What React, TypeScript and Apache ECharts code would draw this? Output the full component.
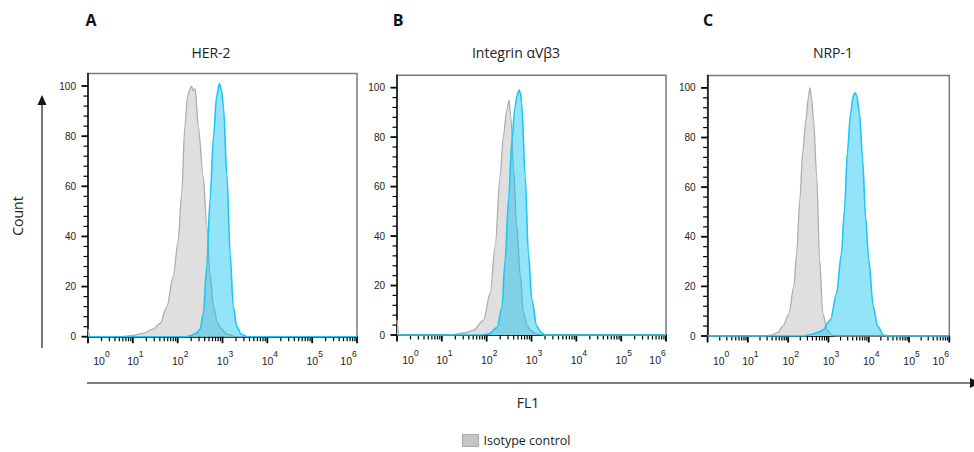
import React, { useEffect, useRef } from "react";
import * as echarts from "echarts";

// ---------- data (x = log10 FL1, y = % of max count) ----------
const panelLetters = ["A", "B", "C"];
const panelTitles = ["HER-2", "Integrin αVβ3", "NRP-1"];
const isotypeName = "Isotype control";

const decadeTicks = [0, 1, 2, 3, 4, 5, 6];
const countTicks = [0, 20, 40, 60, 80, 100];

const isotypeHER2 = [
  [0, 3], [0.04, 0], [0.7, 0], [1.0, 0.5], [1.23, 1.3], [1.45, 3], [1.61, 5.3], [1.76, 12],
  [1.9, 24], [2.01, 38], [2.09, 57], [2.16, 84], [2.22, 96], [2.28, 99], [2.31, 100],
  [2.35, 98], [2.39, 99], [2.46, 84], [2.57, 64], [2.65, 44], [2.72, 25], [2.8, 12],
  [2.88, 6], [2.95, 3.5], [3.1, 1], [3.3, 0], [6, 0],
];
const stainedHER2 = [
  [0, 0], [2.2, 0], [2.3, 0.5], [2.42, 1.5], [2.5, 3], [2.57, 9], [2.65, 28], [2.72, 54],
  [2.8, 80], [2.87, 96], [2.93, 101], [2.98, 98], [3.02, 92], [3.1, 64], [3.17, 33],
  [3.24, 12], [3.32, 4], [3.42, 1], [3.55, 0], [6, 0],
];
const isotypeIntegrin = [
  [0, 6], [0.04, 0], [1.2, 0], [1.5, 0.8], [1.71, 2], [1.93, 6], [2.08, 17], [2.19, 36],
  [2.3, 64], [2.37, 80], [2.45, 91], [2.5, 95], [2.54, 88], [2.6, 67], [2.67, 44],
  [2.75, 24], [2.82, 9], [2.9, 4], [2.97, 2], [3.12, 0.3], [3.3, 0], [6, 0],
];
const stainedIntegrin = [
  [0, 0], [1.9, 0], [2.05, 0.5], [2.23, 3], [2.34, 11], [2.41, 30], [2.49, 55], [2.56, 78],
  [2.63, 92], [2.68, 97], [2.72, 99], [2.75, 98], [2.78, 94], [2.86, 64], [2.93, 33],
  [3.01, 14], [3.12, 3.4], [3.22, 1], [3.3, 0], [6, 0],
];
const isotypeNRP1 = [
  [0, 0], [1.4, 0], [1.57, 0.3], [1.75, 1.5], [1.87, 4], [2.02, 9], [2.14, 20], [2.21, 33],
  [2.29, 55], [2.36, 74], [2.44, 87], [2.5, 96], [2.54, 100], [2.58, 96], [2.63, 87],
  [2.71, 64], [2.78, 31], [2.86, 9], [2.97, 2.4], [3.09, 0.3], [3.2, 0], [6, 0],
];
const stainedNRP1 = [
  [0, 0], [2.4, 0], [2.55, 0.5], [2.75, 1.5], [2.86, 2.4], [3.05, 6.5], [3.2, 17], [3.32, 33],
  [3.4, 51], [3.47, 74], [3.55, 90], [3.62, 97], [3.66, 98], [3.7, 97], [3.77, 90],
  [3.85, 71], [3.92, 48], [4.0, 31], [4.11, 12], [4.22, 4], [4.37, 0.3], [4.5, 0], [6, 0],
];

const isotypeSeries = [isotypeHER2, isotypeIntegrin, isotypeNRP1];
const stainedSeries = [stainedHER2, stainedIntegrin, stainedNRP1];

// ---------- layout ----------
const grids = [
  { left: 88, top: 73.5, width: 269, height: 263.2 },
  { left: 397, top: 75.3, width: 269, height: 259.7 },
  { left: 707.6, top: 75.5, width: 265, height: 260.5 },
];
const letterX = [91, 398, 708];
const titleX = [211, 516, 833];

const AXIS_FONT = "'Liberation Sans', Arial, sans-serif";
const TEXT_FONT = "'Open Sans', Lato, sans-serif";

function minorLogTicks(): number[] {
  const out: number[] = [];
  for (let d = 0; d < 6; d++) {
    for (let k = 2; k <= 9; k++) out.push(d + Math.log10(k));
  }
  return out;
}
function minorCountTicks(): number[] {
  const out: number[] = [];
  for (let v = 0; v <= 100; v += 4) if (v % 20 !== 0) out.push(v);
  return out;
}

export default function App() {
  const ref = useRef<HTMLDivElement>(null);

  useEffect(() => {
    if (!ref.current) return;
    const chart = echarts.init(ref.current, undefined, { renderer: "svg" });

    // tick data: [value, isMajor]
    const xTickData = [
      ...decadeTicks.map((v) => [v, 1]),
      ...minorLogTicks().map((v) => [v, 0]),
    ];
    const yTickData = [
      ...countTicks.map((v) => [0, v, 1]),
      ...minorCountTicks().map((v) => [0, v, 0]),
    ];

    const xAxis: any[] = [];
    const yAxis: any[] = [];
    const series: any[] = [];

    const richBase = { fontFamily: AXIS_FONT, color: "#222" };
    grids.forEach((g, i) => {
      xAxis.push({
        type: "value", gridIndex: i, min: 0, max: 6, interval: 1, position: "bottom",
        axisLine: { show: true, onZero: false, lineStyle: { color: "#111", width: 1.5 } },
        axisTick: { show: false },
        axisLabel: {
          margin: 13,
          formatter: (v: number) => {
            const n = Math.round(v);
            if (n === 0) return `{b0|10}{e|0}`;
            if (n === 6) return `{b|10}{e6|6}`;
            return `{b|10}{e|${n}}`;
          },
          rich: {
            b: { ...richBase, fontSize: 10.5, lineHeight: 17, verticalAlign: "bottom", padding: [0, 0, 0, 5] },
            b0: { ...richBase, fontSize: 10.5, lineHeight: 17, verticalAlign: "bottom", padding: [0, 0, 0, 27] },
            e: { ...richBase, fontSize: 8.5, lineHeight: 17, verticalAlign: "top" },
            e6: { ...richBase, fontSize: 8.5, lineHeight: 17, verticalAlign: "top", padding: [0, 22, 0, 0] },
          },
        },
        splitLine: { show: false },
      });
      yAxis.push({
        type: "value", gridIndex: i, min: 0, max: 105, position: "left",
        axisLine: { show: true, onZero: false, lineStyle: { color: "#111", width: 1.5 } },
        axisTick: { show: false },
        axisLabel: {
          customValues: countTicks, margin: 12, fontSize: 10, fontFamily: AXIS_FONT, color: "#222",
          formatter: (v: number) => (v > 100 ? "" : String(v)),
        },
        splitLine: { show: false },
      });

      series.push({
        type: "line", name: isotypeName, xAxisIndex: i, yAxisIndex: i,
        data: isotypeSeries[i], showSymbol: false, smooth: 0.3, smoothMonotone: "x",
        lineStyle: { color: "#adadad", width: 1.3 },
        itemStyle: { color: "#c8c8c8" },
        areaStyle: { color: "#dfdfdf", opacity: 1 },
        z: 2,
      });
      series.push({
        type: "line", name: panelTitles[i], xAxisIndex: i, yAxisIndex: i,
        data: stainedSeries[i], showSymbol: false, smooth: 0.3, smoothMonotone: "x",
        lineStyle: { color: "#1ec6f2", width: 1.6 },
        itemStyle: { color: "#1ec6f2" },
        areaStyle: { color: "rgba(0,190,240,0.42)", opacity: 1 },
        z: 3,
      });
      // x-axis ticks (log decades + log minor ticks)
      series.push({
        type: "custom", xAxisIndex: i, yAxisIndex: i,
        data: xTickData, clip: false,
        renderItem: (params: any, api: any) => {
          const major = api.value(1) === 1;
          const p = api.coord([api.value(0), 0]);
          return {
            type: "line",
            shape: { x1: p[0], y1: p[1], x2: p[0], y2: p[1] + (major ? 6.5 : 4.5) },
            style: { stroke: "#000", lineWidth: major ? 1.8 : 1.2 },
          };
        },
      });
      // y-axis ticks
      series.push({
        type: "custom", xAxisIndex: i, yAxisIndex: i,
        data: yTickData, clip: false,
        renderItem: (params: any, api: any) => {
          const major = api.value(2) === 1;
          const p = api.coord([0, api.value(1)]);
          return {
            type: "line",
            shape: { x1: p[0], y1: p[1], x2: p[0] - (major ? 6.5 : 4.5), y2: p[1] },
            style: { stroke: "#000", lineWidth: major ? 1.8 : 1.2 },
          };
        },
      });
    });

    const graphic: any[] = [];
    panelLetters.forEach((l, i) => {
      graphic.push({
        type: "text", x: letterX[i], y: 20,
        style: { text: l, fontSize: 16, fontWeight: "bold", fontFamily: TEXT_FONT, fill: "#111", align: "center", verticalAlign: "middle" },
      });
      graphic.push({
        type: "text", x: titleX[i], y: 52,
        style: { text: panelTitles[i], fontSize: 14, fontFamily: TEXT_FONT, fill: "#222", align: "center", verticalAlign: "middle" },
      });
    });
    graphic.push({
      type: "text", x: 17.5, y: 216, rotation: Math.PI / 2,
      style: { text: "Count", fontSize: 14, fontFamily: TEXT_FONT, fill: "#222", align: "center", verticalAlign: "middle" },
    });
    graphic.push({
      type: "text", x: 528, y: 402,
      style: { text: "FL1", fontSize: 14, fontFamily: TEXT_FONT, fill: "#222", align: "center", verticalAlign: "middle" },
    });
    graphic.push({ type: "line", shape: { x1: 42, y1: 348, x2: 42, y2: 104 }, style: { stroke: "#555", lineWidth: 1.6 } });
    graphic.push({ type: "polygon", shape: { points: [[42, 95], [37.5, 105], [46.5, 105]] }, style: { fill: "#111" } });
    graphic.push({ type: "line", shape: { x1: 87, y1: 383, x2: 974, y2: 383 }, style: { stroke: "#555", lineWidth: 1.6 } });
    graphic.push({ type: "polygon", shape: { points: [[970, 378], [970, 388], [980, 383]] }, style: { fill: "#111" } });

    chart.setOption({
      animation: false,
      grid: grids.map((g) => ({ ...g, show: true, borderColor: "#7a7a7a", borderWidth: 1.5, backgroundColor: "transparent" })),
      xAxis,
      yAxis,
      series,
      graphic,
      legend: {
        show: true,
        left: 462,
        top: 434,
        padding: 0,
        itemWidth: 16,
        itemHeight: 12,
        itemGap: 6,
        selectedMode: false,
        textStyle: { fontSize: 12.5, fontFamily: TEXT_FONT, color: "#222" },
        data: [{ name: isotypeName, icon: "rect", itemStyle: { color: "#c6c6c6", borderColor: "#a8a8a8", borderWidth: 1 } }],
      },
    });

    return () => chart.dispose();
  }, []);

  return (
    <div
      ref={ref}
      style={{ position: "absolute", left: 0, top: 0, width: 974, height: 452, background: "#fff" }}
    />
  );
}
